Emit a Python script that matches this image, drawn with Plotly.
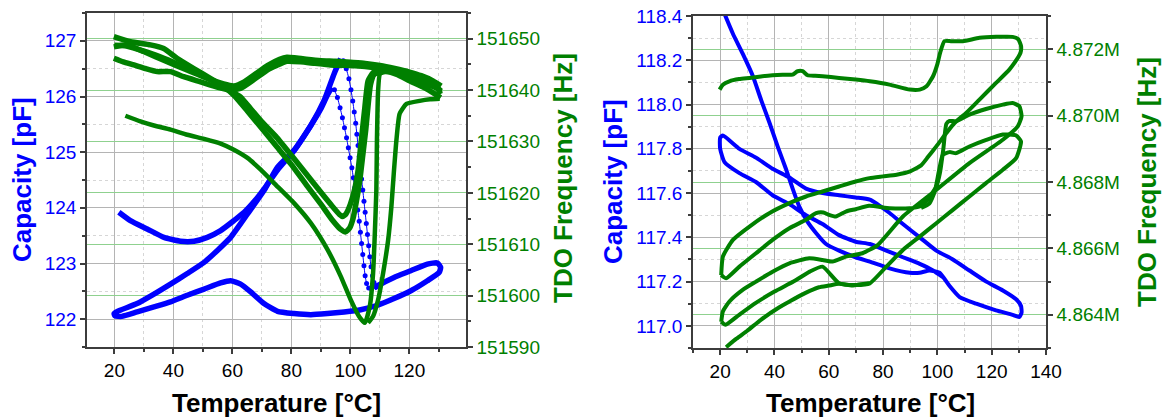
import plotly.graph_objects as go

# ---------------- left panel: capacity (pF) ----------------
cap_a_t = [21.5, 25.4, 31.1, 36.8, 42.4, 47.0, 51.5, 56.0, 60.5, 64.0, 67.5, 71.0, 75.3, 80.9, 86.6, 90.0, 91.8, 93.0, 93.8]
cap_a_v = [123.92, 123.77, 123.62, 123.47, 123.40, 123.40, 123.47, 123.59, 123.77, 123.92, 124.12, 124.36, 124.68, 125.03, 125.48, 125.78, 125.98, 126.10, 126.16]

cap_drop1_t = [94.6, 95.6, 96.5, 97.3, 98.0, 98.7, 99.3, 99.9, 100.5, 101.0, 101.5, 102.0, 102.5, 103.0, 103.4, 103.8, 104.2, 104.6, 105.0, 105.5, 106.2, 107.2]
cap_drop1_v = [126.12, 125.98, 125.80, 125.62, 125.44, 125.26, 125.08, 124.90, 124.72, 124.54, 124.36, 124.16, 123.96, 123.76, 123.56, 123.36, 123.16, 122.96, 122.78, 122.64, 122.56, 122.54]

cap_b_t = [108.0, 109.2, 114.8, 120.5, 126.1, 129.5, 130.6, 130.1, 126.1, 120.5, 114.8, 109.2, 103.5, 97.9, 92.2, 86.6, 80.9, 75.3, 70.7, 66.2, 62.8, 59.4, 56.0, 50.4, 44.7, 39.0, 33.4, 27.7, 22.5, 20.2, 19.9, 21.0, 27.7, 33.4, 39.0, 44.7, 50.4, 55.0, 59.4, 65.1, 70.7, 75.3, 80.9, 86.6, 91.1, 94.5, 96.7]
cap_b_v = [122.56, 122.60, 122.75, 122.87, 122.99, 123.01, 122.93, 122.84, 122.69, 122.51, 122.37, 122.25, 122.17, 122.13, 122.10, 122.08, 122.10, 122.14, 122.28, 122.49, 122.63, 122.69, 122.65, 122.54, 122.43, 122.31, 122.22, 122.13, 122.05, 122.06, 122.10, 122.14, 122.28, 122.45, 122.63, 122.82, 123.02, 123.24, 123.47, 123.89, 124.31, 124.73, 125.03, 125.48, 125.93, 126.41, 126.68]

cap_drop2_t = [97.6, 98.6, 99.5, 100.2, 100.8, 101.3, 101.8, 102.2, 102.6, 103.0, 103.4, 103.8, 104.2, 104.6, 105.0, 105.4, 105.8, 106.2, 106.6, 107.0, 107.5, 108.0, 108.8]
cap_drop2_v = [126.64, 126.50, 126.32, 126.12, 125.92, 125.72, 125.52, 125.32, 125.12, 124.92, 124.72, 124.52, 124.32, 124.12, 123.92, 123.72, 123.52, 123.32, 123.12, 122.94, 122.78, 122.66, 122.58]

# ---------------- left panel: TDO frequency (Hz) ----------------
frq_a_t = [19.8, 25.4, 32.2, 36.7, 41.2, 46.9, 52.5, 58.2, 62.7, 66.0, 70.0, 75.0, 80.0, 85.0, 90.0, 94.0, 96.3, 97.3, 98.5, 100.0, 101.5, 102.6, 103.7, 104.9, 106.0, 107.7, 110.0, 115.0, 120.0, 125.0, 129.5, 130.5]
frq_a_v = [151650.4, 151649.4, 151648.8, 151648.1, 151646.2, 151644.2, 151642.3, 151640.3, 151638.7, 151636.5, 151633.8, 151630.8, 151627.3, 151623.7, 151620.1, 151617.3, 151615.8, 151615.4, 151615.9, 151617.8, 151620.8, 151624.3, 151630.2, 151636.6, 151641.8, 151643.4, 151644.2, 151643.4, 151642.5, 151641.3, 151640.3, 151639.2]

frq_b_t = [19.8, 24.3, 29.9, 37.9, 44.6, 51.4, 57.1, 60.5, 65.0, 70.0, 75.0, 80.0, 85.0, 90.0, 94.0, 96.5, 98.4, 99.8, 100.9, 102.0, 103.2, 104.2, 105.2, 106.0, 106.8, 108.0, 112.0, 116.0, 120.0, 125.0, 128.5, 130.6]
frq_b_v = [151648.4, 151648.8, 151647.5, 151645.5, 151643.9, 151642.3, 151640.6, 151639.0, 151636.0, 151632.5, 151629.0, 151625.5, 151621.6, 151617.8, 151614.6, 151613.0, 151612.4, 151613.2, 151615.0, 151618.2, 151622.5, 151627.3, 151632.2, 151637.0, 151641.0, 151643.0, 151643.6, 151643.0, 151641.8, 151640.5, 151639.3, 151638.5]

frq_c_t = [19.8, 23.0, 26.6, 30.5, 34.5, 39.0, 43.5, 49.2, 54.8, 59.3, 62.7, 67.2, 71.8, 75.0, 78.5, 83.1, 88.0, 93.2, 100.0, 105.0, 110.0, 115.0, 120.0, 125.0, 128.5, 130.8]
frq_c_v = [151646.2, 151645.5, 151644.9, 151644.2, 151643.6, 151643.6, 151642.6, 151641.6, 151640.6, 151640.0, 151640.3, 151642.0, 151643.9, 151644.8, 151645.6, 151645.5, 151645.2, 151644.9, 151644.8, 151644.6, 151644.2, 151643.5, 151642.6, 151641.6, 151640.8, 151639.8]

frq_d_t = [130.8, 128.0, 124.0, 120.0, 115.0, 110.0, 105.0, 100.0, 95.0, 90.0, 85.0, 81.0, 78.5, 76.0, 72.0, 68.0, 64.0, 60.5, 57.0, 52.0, 46.0, 40.0, 34.0, 28.0, 23.5, 20.0]
frq_d_v = [151640.8, 151641.8, 151642.8, 151643.5, 151644.2, 151644.8, 151645.2, 151645.4, 151645.6, 151645.7, 151646.0, 151646.3, 151646.4, 151646.0, 151644.8, 151643.2, 151641.6, 151640.8, 151641.2, 151642.2, 151643.8, 151645.4, 151646.8, 151647.9, 151648.6, 151648.7]

frq_e_t = [23.7, 28.8, 33.4, 39.0, 44.7, 50.4, 56.0, 60.5, 65.1, 69.6, 74.1, 80.9, 86.6, 92.2, 96.7, 100.1, 102.9, 104.9, 106.6, 107.7, 108.2, 108.8, 109.0, 109.4, 110.0, 112.0, 115.0, 120.0, 125.0, 129.5, 130.6]
frq_e_v = [151635.0, 151633.9, 151633.1, 151632.3, 151631.3, 151630.5, 151629.6, 151628.4, 151626.8, 151624.5, 151621.9, 151618.0, 151614.1, 151609.0, 151603.8, 151599.2, 151596.0, 151594.7, 151598.0, 151604.4, 151610.8, 151620.5, 151630.2, 151639.9, 151643.1, 151643.8, 151643.4, 151642.5, 151641.5, 151640.5, 151639.5]

frq_f_t = [130.3, 127.0, 123.5, 119.0, 116.7, 115.6, 114.7, 113.9, 112.8, 111.1, 109.4, 107.7, 106.0]
frq_f_v = [151638.3, 151638.2, 151637.9, 151637.3, 151635.4, 151630.2, 151623.7, 151617.3, 151610.8, 151604.4, 151599.2, 151596.0, 151594.7]

# ---------------- right panel: capacity (pF) ----------------
cap_r_t = [21.6, 24.7, 28.3, 32.0, 35.1, 38.1, 41.2, 44.2, 46.7, 49.1, 52.2, 55.3, 59.0, 63.8, 69.9, 75.1, 82.4, 89.8, 93.5, 97.1, 100.8, 104.5, 108.2, 114.3, 121.6, 127.7, 130.2, 131.0, 130.8, 129.0, 124.1, 118.0, 111.8, 105.7, 99.6, 93.5, 87.3, 82.4, 75.1, 69.9, 63.8, 57.7, 51.6, 45.5, 39.3, 33.2, 27.1, 21.0, 20.0, 20.0, 21.6, 27.1, 33.2, 39.3, 45.5, 51.6, 57.7, 63.8, 69.9, 75.1, 81.2, 87.3, 93.5, 98.4, 102.0]
cap_r_v = [118.41, 118.32, 118.23, 118.13, 118.02, 117.92, 117.81, 117.71, 117.62, 117.54, 117.47, 117.42, 117.37, 117.34, 117.31, 117.29, 117.26, 117.24, 117.24, 117.25, 117.24, 117.18, 117.13, 117.10, 117.07, 117.05, 117.04, 117.06, 117.09, 117.12, 117.16, 117.20, 117.25, 117.30, 117.34, 117.40, 117.46, 117.51, 117.57, 117.58, 117.59, 117.60, 117.62, 117.67, 117.71, 117.76, 117.80, 117.86, 117.85, 117.80, 117.74, 117.69, 117.65, 117.59, 117.55, 117.50, 117.46, 117.41, 117.38, 117.37, 117.34, 117.31, 117.28, 117.25, 117.22]

# ---------------- right panel: TDO frequency (Hz) ----------------
frq_r1_t = [19.8, 21.0, 23.4, 27.0, 30.8, 35.0, 39.3, 43.0, 46.7, 48.5, 50.4, 52.2, 55.0, 57.7, 63.8, 69.9, 75.1, 82.4, 89.8, 93.5, 96.0, 98.4, 100.0, 101.0, 102.6, 105.0, 109.4, 115.5, 121.6, 127.7, 129.8, 130.8, 130.6, 128.5, 126.5, 121.6, 115.5, 110.6, 106.3, 103.3, 99.6, 96.5, 94.0, 90.0, 85.0, 80.0, 75.0, 69.9, 63.8, 57.7, 51.6, 45.5, 38.1, 30.8, 24.7, 21.0, 20.4]
frq_r1_v = [4870783, 4870930, 4871034, 4871100, 4871135, 4871180, 4871215, 4871230, 4871235, 4871336, 4871336, 4871215, 4871200, 4871185, 4871135, 4871085, 4871034, 4870934, 4870783, 4870783, 4870883, 4871185, 4871550, 4871889, 4872241, 4872241, 4872241, 4872342, 4872372, 4872372, 4872300, 4872100, 4871889, 4871600, 4871386, 4870984, 4870481, 4870079, 4869777, 4869475, 4869073, 4868750, 4868500, 4868320, 4868220, 4868170, 4868117, 4868016, 4867865, 4867714, 4867563, 4867363, 4867061, 4866658, 4866256, 4865753, 4865199]

frq_r2_t = [20.4, 22.2, 27.1, 33.2, 39.3, 45.5, 51.6, 55.3, 58.0, 60.1, 62.6, 66.3, 69.9, 74.8, 82.4, 89.8, 93.5, 95.9, 97.5, 99.6, 101.0, 102.2, 103.3, 104.5, 106.9, 111.8, 117.9, 124.1, 127.7, 130.2, 131.0, 129.6, 124.1, 111.8, 99.6, 87.3, 78.0, 72.4, 66.3, 61.4, 57.7, 52.8, 45.5, 39.3, 33.2, 28.3, 23.4, 21.0, 20.4]
frq_r2_v = [4865199, 4865099, 4865451, 4865854, 4866256, 4866608, 4866860, 4867061, 4867080, 4867010, 4866960, 4867111, 4867181, 4867282, 4867212, 4867212, 4867262, 4867413, 4867600, 4867865, 4868300, 4869000, 4869750, 4869840, 4869827, 4870028, 4870199, 4870330, 4870380, 4870280, 4869978, 4869676, 4869274, 4868570, 4867765, 4866960, 4866100, 4865854, 4865753, 4865602, 4865652, 4865703, 4865552, 4865300, 4865000, 4864750, 4864400, 4864100, 4863791]

frq_r3_t = [20.4, 22.0, 27.0, 33.0, 40.0, 47.0, 53.0, 57.7, 63.8, 69.9, 75.1, 81.2, 87.3, 93.5, 99.6, 105.7, 111.8, 117.9, 124.1, 129.0, 130.8, 129.0, 124.1, 118.0, 111.8, 106.9, 104.5, 102.0, 100.5, 99.0, 97.0, 94.0]
frq_r3_v = [4863791, 4863700, 4864000, 4864350, 4864700, 4865000, 4865300, 4865450, 4864950, 4864900, 4864948, 4865451, 4865954, 4866356, 4866759, 4867161, 4867564, 4867966, 4868369, 4868721, 4869224, 4869400, 4869430, 4869270, 4869070, 4868870, 4868900, 4868820, 4868300, 4867700, 4867350, 4867220]

frq_r4_t = [22.2, 26.0, 30.0, 35.0, 41.8, 46.0, 50.0, 53.0, 56.4, 60.0, 63.8, 68.6, 72.0, 74.8]
frq_r4_v = [4863025, 4863280, 4863520, 4863850, 4864227, 4864420, 4864600, 4864720, 4864830, 4864880, 4864933, 4864883, 4864920, 4864948]

# ---------------- axis ticks ----------------
temp_ticks = [20, 40, 60, 80, 100, 120, 140]
cap_l_ticks = [122, 123, 124, 125, 126, 127]
frq_l_ticks = [151590, 151600, 151610, 151620, 151630, 151640, 151650]
cap_r_ticks = [117.0, 117.2, 117.4, 117.6, 117.8, 118.0, 118.2, 118.4]
frq_r_ticks = [4864000, 4866000, 4868000, 4870000, 4872000]

BLUE = "#0000ff"
GREEN = "#008000"
FONT = "Liberation Sans, Arial, sans-serif"
AXIS_LINE = "#3c3c3c"
GRID = "#b4b4b4"
MINOR_GRID = "#d6d6d6"
GREEN_GRID = "#8fd18f"

fig = go.Figure()


def line(x, y, color, width, xa, ya, mode="lines", msize=0):
    fig.add_trace(go.Scatter(
        x=x, y=y, mode=mode, xaxis=xa, yaxis=ya,
        line=dict(color=color, width=width, shape="spline", smoothing=0.5),
        marker=dict(color=color, size=msize),
        hoverinfo="skip", showlegend=False))


# left panel
line(cap_a_t, cap_a_v, BLUE, 5.5, "x", "y")
line(cap_b_t, cap_b_v, BLUE, 5.5, "x", "y")
line(cap_drop1_t, cap_drop1_v, BLUE, 1, "x", "y", "lines+markers", 5)
line(cap_drop2_t, cap_drop2_v, BLUE, 1, "x", "y", "lines+markers", 5)
line(frq_a_t, frq_a_v, GREEN, 5.5, "x", "y2")
line(frq_b_t, frq_b_v, GREEN, 5.5, "x", "y2")
line(frq_c_t, frq_c_v, GREEN, 5.5, "x", "y2")
line(frq_d_t, frq_d_v, GREEN, 5.5, "x", "y2")
line(frq_e_t, frq_e_v, GREEN, 4.5, "x", "y2")
line(frq_f_t, frq_f_v, GREEN, 4.5, "x", "y2")

# right panel
line(cap_r_t, cap_r_v, BLUE, 4, "x2", "y3")
line(frq_r1_t, frq_r1_v, GREEN, 4, "x2", "y4")
line(frq_r2_t, frq_r2_v, GREEN, 4, "x2", "y4")
line(frq_r3_t, frq_r3_v, GREEN, 4, "x2", "y4")
line(frq_r4_t, frq_r4_v, GREEN, 4, "x2", "y4")

tick_font = dict(family=FONT, size=19)


def xaxis_cfg(domain, rng):
    return dict(domain=domain, range=rng, tickmode="array", tickvals=temp_ticks, automargin=False,
                ticks="outside", ticklen=5, tickwidth=1.5, tickcolor=AXIS_LINE,
                showline=True, linecolor=AXIS_LINE, linewidth=1.5, mirror=True,
                showgrid=True, gridcolor=GRID, gridwidth=1, zeroline=False,
                tickfont=dict(tick_font, color="#000000"),
                minor=dict(dtick=10, tick0=10, ticks="outside", ticklen=3, tickcolor=AXIS_LINE,
                           showgrid=True, gridcolor=MINOR_GRID, griddash="dot"))


def top_cfg(overlay, rng):
    return dict(overlaying=overlay, side="top", range=rng, tickmode="array", tickvals=temp_ticks,
                automargin=False, ticks="inside", ticklen=5, tickwidth=1.5, tickcolor=AXIS_LINE,
                showticklabels=False, showgrid=False, zeroline=False, showline=False,
                minor=dict(dtick=10, tick0=10, ticks="inside", ticklen=3, tickcolor=AXIS_LINE))


def ycap_cfg(domain, rng, vals, fmt, mdt, anchor):
    return dict(domain=domain, range=rng, anchor=anchor, tickmode="array", tickvals=vals,
                automargin=False, tickformat=fmt, ticks="outside", ticklen=5, tickwidth=1.5,
                tickcolor=AXIS_LINE, showline=True, linecolor=AXIS_LINE, linewidth=1.5,
                showgrid=True, gridcolor=GRID, gridwidth=1, zeroline=False,
                tickfont=dict(tick_font, color=BLUE),
                minor=dict(dtick=mdt, ticks="outside", ticklen=3, tickcolor=AXIS_LINE,
                           showgrid=True, gridcolor=MINOR_GRID, griddash="dot"))


def yfrq_cfg(overlay, anchor, rng, vals, fmt, mdt, t0):
    return dict(overlaying=overlay, anchor=anchor, side="right", range=rng, tickmode="array",
                automargin=False, tickvals=vals, tickformat=fmt, ticks="outside", ticklen=5,
                tickwidth=1.5, tickcolor=AXIS_LINE, showline=True, linecolor=AXIS_LINE,
                linewidth=1.5, showgrid=True, gridcolor=GREEN_GRID, gridwidth=1, zeroline=False,
                tickfont=dict(tick_font, color=GREEN),
                minor=dict(dtick=mdt, tick0=t0, ticks="outside", ticklen=3, tickcolor=AXIS_LINE,
                           showgrid=False))


left_x = [87 / 1162, 466 / 1162]
left_y = [(418 - 347) / 418, (418 - 13) / 418]
right_x = [693 / 1162, 1046 / 1162]
right_y = [(418 - 348) / 418, (418 - 16) / 418]

x_rng_l = [10.7, 139.2]
x_rng_r = [10, 140]

fig.update_layout(
    width=1162, height=418, margin=dict(l=0, r=0, t=0, b=0, autoexpand=False),
    paper_bgcolor="white", plot_bgcolor="white",
    xaxis=dict(xaxis_cfg(left_x, x_rng_l), anchor="y"),
    xaxis2=dict(xaxis_cfg(right_x, x_rng_r), anchor="y3"),
    xaxis3=dict(top_cfg("x", x_rng_l), anchor="y"),
    xaxis4=dict(top_cfg("x2", x_rng_r), anchor="y3"),
    yaxis=ycap_cfg(left_y, [121.5, 127.5], cap_l_ticks, "d", 0.5, "x"),
    yaxis2=yfrq_cfg("y", "x", [151590, 151655], frq_l_ticks, "d", 5, 151590),
    yaxis3=ycap_cfg(right_y, [116.9, 118.4], cap_r_ticks, ".1f", 0.1, "x2"),
    yaxis4=yfrq_cfg("y3", "x2", [4863000, 4873000], frq_r_ticks, ".4s", 1000, 4863000),
)

# axis titles placed as annotations
title_font = dict(family=FONT, size=26)
titles = [
    (22, 180, "<b>Capacity [pF]</b>", BLUE, -90),
    (563, 178, "<b>TDO Frequency [Hz]</b>", GREEN, -90),
    (276, 403, "<b>Temperature [°C]</b>", "#000000", 0),
    (613, 182, "<b>Capacity [pF]</b>", BLUE, -90),
    (1147, 182, "<b>TDO Frequency [Hz]</b>", GREEN, -90),
    (870, 403, "<b>Temperature [°C]</b>", "#000000", 0),
]
for px, py, txt, col, ang in titles:
    fig.add_annotation(x=px / 1162, y=1 - py / 418, xref="paper", yref="paper", text=txt,
                       showarrow=False, textangle=ang, xanchor="center", yanchor="middle",
                       font=dict(title_font, color=col))

fig.write_html("out.html")
